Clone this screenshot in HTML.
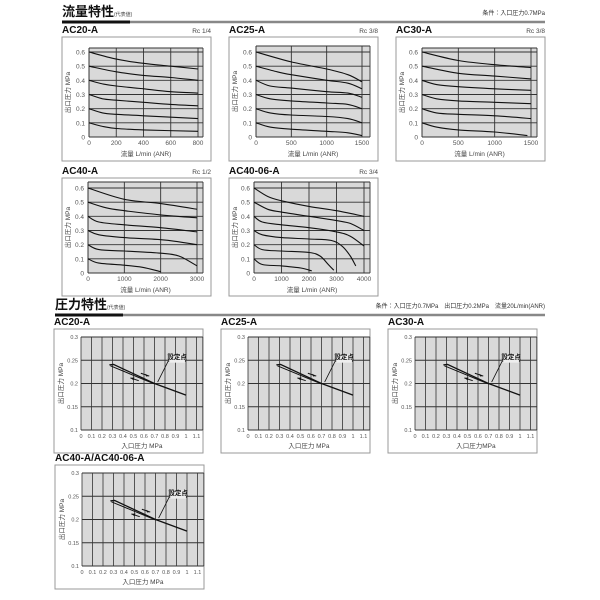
<!DOCTYPE html>
<html><head><meta charset="utf-8"><style>
html,body{margin:0;padding:0;background:#fff;}
svg{display:block;font-family:"Liberation Sans","Noto Sans CJK JP",sans-serif;}
</style></head><body>
<svg id="s" width="600" height="600" viewBox="0 0 600 600" xmlns="http://www.w3.org/2000/svg"></svg>
<script>
const S=document.getElementById('s');let h='';
function t(x,y,s,sz,opt){opt=opt||{};h+=`<text x="${x}" y="${y}" font-size="${sz}" fill="${opt.fill||'#222'}" ${opt.a?'text-anchor="'+opt.a+'"':''} ${opt.b?'font-weight="bold"':''} ${opt.tr?'transform="'+opt.tr+'"':''}>${s}</text>`;}
function L(x1,y1,x2,y2,c,w){h+=`<line x1="${x1}" y1="${y1}" x2="${x2}" y2="${y2}" stroke="${c}" stroke-width="${w}"/>`;}
function smooth(p){let d=`M${p[0][0].toFixed(1)},${p[0][1].toFixed(1)}`;for(let i=0;i<p.length-1;i++){const p0=p[Math.max(0,i-1)],p1=p[i],p2=p[i+1],p3=p[Math.min(p.length-1,i+2)];const c1=[p1[0]+(p2[0]-p0[0])/6,p1[1]+(p2[1]-p0[1])/6],c2=[p2[0]-(p3[0]-p1[0])/6,p2[1]-(p3[1]-p1[1])/6];d+=` C${c1[0].toFixed(1)},${c1[1].toFixed(1)} ${c2[0].toFixed(1)},${c2[1].toFixed(1)} ${p2[0].toFixed(1)},${p2[1].toFixed(1)}`;}return d;}
// headers
function header(x,y,title,cond,right){t(x,y,title,13,{b:1,fill:'#111'});t(x+52,y,'(代表値)',5,{fill:'#444'});L(x,y+6,x+68,y+6,'#111',3);L(x+68,y+6,right,y+6,'#888',2.5);t(right,y-1,cond,6,{a:'end',fill:'#333'});}
header(62,16,'流量特性','条件：入口圧力0.7MPa',545);
header(55,309,'圧力特性','条件：入口圧力0.7MPa　出口圧力0.2MPa　流量20L/min(ANR)',545);
// flow panels
function flow(bx,by,bh,name,rc,x0,xr,top,y0,xmax,ticks,curves){
 const sy=85/0.6, sx=(xr-x0)/xmax, R=bx+141;
 h+=`<rect x="${bx}" y="${by}" width="149" height="${bh}" fill="#fff" stroke="#999" stroke-width="1"/>`;
 t(bx,by-4,name,10,{b:1,fill:'#111'});t(bx+149,by-4,rc,6.5,{a:'end',fill:'#444'});
 h+=`<rect x="${x0}" y="${top}" width="${R-x0}" height="${y0-top}" fill="#d9d9d9"/>`;
 for(let i=0;i<=6;i++){const y=y0-i*0.1*sy;L(x0,y,R,y,'#333',0.9);t(x0-4,y+2.5,i==0?'0':(i/10).toFixed(1),6.5,{a:'end',fill:'#555'});}
 ticks.forEach(v=>{const x=x0+v*sx;L(x,top,x,y0,'#333',0.9);t(x,y0+8,v,6.5,{a:'middle',fill:'#555'});});
 L(x0,top,R,top,'#333',0.9);L(R,top,R,y0,'#333',0.9);L(x0,top,x0,y0,'#333',0.9);
 t(0,0,'出口圧力 MPa',6.5,{a:'middle',fill:'#444',tr:`translate(${bx+8},${(top+y0)/2}) rotate(-90)`});
 t((x0+R)/2,y0+19,'流量 L/min (ANR)',6.5,{a:'middle',fill:'#444'});
 curves.forEach(c=>{h+=`<path d="${smooth(c.map(p=>[x0+p[0]*sx,y0-p[1]*sy]))}" fill="none" stroke="#111" stroke-width="1.1"/>`;});
}
flow(62,37,124,'AC20-A','Rc 1/4',89,198,48,137,800,[0,200,400,600,800],[
[[0,.6],[200,.55],[400,.52],[600,.5],[800,.48]],[[0,.5],[200,.46],[400,.435],[600,.42],[800,.40]],
[[0,.4],[100,.375],[200,.36],[400,.34],[600,.32],[800,.31]],[[0,.3],[100,.27],[200,.26],[400,.245],[600,.23],[800,.22]],
[[0,.2],[100,.17],[200,.16],[400,.15],[800,.13]],[[0,.1],[100,.075],[200,.06],[400,.05],[800,.04]]]);
flow(229,37,124,'AC25-A','Rc 3/8',256,362,46,137,1500,[0,500,1000,1500],[
[[0,.6],[500,.53],[1000,.48],[1300,.44],[1500,.39]],[[0,.5],[300,.46],[500,.44],[1000,.40],[1300,.38],[1500,.34]],
[[0,.4],[200,.36],[500,.345],[1000,.32],[1300,.31],[1500,.28]],[[0,.3],[200,.27],[500,.255],[1000,.24],[1300,.23],[1500,.2]],
[[0,.2],[200,.17],[500,.155],[1000,.145],[1300,.13],[1500,.1]],[[0,.1],[200,.07],[500,.055],[1000,.04],[1300,.03],[1500,.01]]]);
flow(396,37,124,'AC30-A','Rc 3/8',422,531,48,137,1500,[0,500,1000,1500],[
[[0,.6],[500,.54],[1000,.51],[1500,.49]],[[0,.5],[500,.45],[1000,.43],[1500,.41]],
[[0,.4],[200,.37],[500,.355],[1000,.34],[1500,.33]],[[0,.3],[200,.27],[500,.255],[1000,.245],[1500,.235]],
[[0,.2],[200,.17],[500,.16],[1000,.15],[1500,.13]],[[0,.1],[200,.07],[500,.05],[1000,.035],[1450,.01]]]);
flow(62,178,118,'AC40-A','Rc 1/2',88,197,182,273,3000,[0,1000,2000,3000],[
[[0,.6],[1000,.52],[2000,.49],[3000,.45]],[[0,.5],[500,.46],[1000,.44],[2000,.41],[3000,.39]],
[[0,.4],[300,.36],[1000,.34],[2000,.32],[3000,.29]],[[0,.3],[300,.27],[1000,.25],[2000,.235],[2500,.22],[3000,.20]],
[[0,.2],[300,.165],[1000,.155],[2000,.14],[2500,.12],[3000,.05]],[[0,.1],[300,.07],[1000,.055],[1500,.04],[2000,.01]]]);
flow(229,178,118,'AC40-06-A','Rc 3/4',254,364,182,273,4000,[0,1000,2000,3000,4000],[
[[0,.6],[500,.54],[1000,.51],[2000,.47],[3000,.44],[4000,.40]],[[0,.5],[500,.45],[1000,.43],[2000,.40],[3000,.37],[3500,.35],[4000,.30]],
[[0,.4],[300,.36],[1000,.34],[2000,.32],[3000,.29],[3500,.26],[4000,.19]],[[0,.3],[300,.27],[1000,.25],[2000,.24],[2800,.23],[3200,.19],[3500,.12],[3700,.05]],
[[0,.2],[300,.165],[1000,.155],[2000,.145],[2400,.12],[2700,.06],[2900,.02]],[[0,.1],[300,.06],[1000,.05],[1700,.035],[2100,.015]]]);
// pressure panels
function pres(bx,by,name,xl){
 const x0=bx+27,sx=105,yt=by+8,sy=465,R=x0+1.16*sx;const Y=v=>yt+(0.3-v)*sy,X=v=>x0+v*sx;const yb=Y(0.1);
 h+=`<rect x="${bx}" y="${by}" width="149" height="124" fill="#fff" stroke="#999" stroke-width="1"/>`;
 t(bx,by-4,name,10,{b:1,fill:'#111'});
 h+=`<rect x="${x0}" y="${yt}" width="${R-x0}" height="${yb-yt}" fill="#d9d9d9"/>`;
 for(let i=0;i<=11;i++){const x=X(i/10);L(x,yt,x,yb,'#333',0.8);t(x,yb+8,i==0?'0':i==10?'1':i==11?'1.1':(i/10).toFixed(1),5.5,{a:'middle',fill:'#555'});}
 L(R,yt,R,yb,'#333',0.8);
 [0.1,0.15,0.2,0.25,0.3].forEach(v=>{L(x0,Y(v),R,Y(v),'#333',1);t(x0-3,Y(v)+2,String(v),5.5,{a:'end',fill:'#555'});});
 t(0,0,'出口圧力 MPa',6.5,{a:'middle',fill:'#444',tr:`translate(${bx+9},${(yt+yb)/2}) rotate(-90)`});
 t((x0+R)/2,yb+18,xl,6.5,{a:'middle',fill:'#444'});
 h+=`<polyline points="${X(.27)},${Y(.24)} ${X(.31)},${Y(.241)} ${X(.7)},${Y(.2)} ${X(1)},${Y(.175)}" fill="none" stroke="#111" stroke-width="1.3"/>`;
 h+=`<polyline points="${X(.28)},${Y(.238)} ${X(.7)},${Y(.199)}" fill="none" stroke="#111" stroke-width="1"/>`;
 L(X(.57),Y(.222),X(.65),Y(.216),'#111',1);h+=`<polygon points="${X(.65)},${Y(.216)} ${X(.61)},${Y(.221)} ${X(.62)},${Y(.215)}" fill="#111"/>`;
 L(X(.47),Y(.212),X(.55),Y(.206),'#111',1);h+=`<polygon points="${X(.47)},${Y(.212)} ${X(.51)},${Y(.213)} ${X(.50)},${Y(.207)}" fill="#111"/>`;
 L(X(.73),Y(.203),X(.83),Y(.248),'#111',0.8);L(X(.83),Y(.248),X(1.0),Y(.248),'#111',0.8);
 h+=`<rect x="${X(.84)}" y="${Y(.262)}" width="${X(.99)-X(.84)}" height="8" fill="#eee"/>`;
 t((X(.84)+X(.99))/2,Y(.25)-1.5,'設定点',6.5,{a:'middle',fill:'#111',b:1});
}
pres(54,329,'AC20-A','入口圧力 MPa');
pres(221,329,'AC25-A','入口圧力 MPa');
pres(388,329,'AC30-A','入口圧力MPa');
pres(55,465,'AC40-A/AC40-06-A','入口圧力 MPa');
S.innerHTML=h;
</script>
</body></html>
